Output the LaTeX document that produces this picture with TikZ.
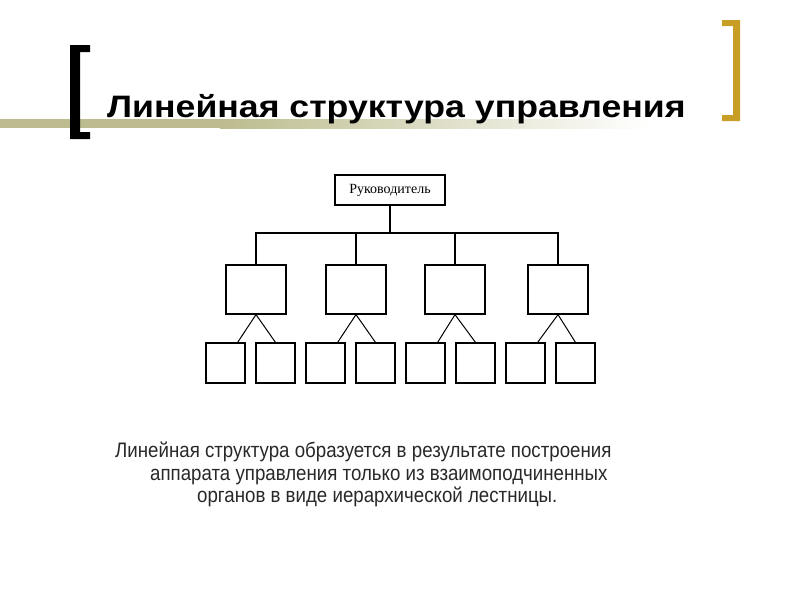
\documentclass[tikz,border=0pt]{standalone}
\usepackage{fontspec}
\setmainfont{Liberation Sans}
\newfontfamily\timesfont{Liberation Serif}
\usepackage{xcolor}
\usepackage{graphicx}
\usetikzlibrary{positioning}

\definecolor{barolive}{RGB}{188,188,142}
\definecolor{bracketgold}{RGB}{201,158,36}
\definecolor{textgrey}{RGB}{40,40,40}

\begin{document}
\begin{tikzpicture}[x=1pt,y=-1pt,
	chief/.style={draw,line width=1.2pt,rectangle,minimum width=110pt,minimum height=30pt,inner sep=0pt,font=\timesfont\fontsize{14}{16}\selectfont},
	unit/.style={draw,line width=1.2pt,rectangle,minimum width=60pt,minimum height=49pt,inner sep=0pt},
	leaf/.style={draw,line width=1.2pt,rectangle,minimum width=39pt,minimum height=40pt,inner sep=0pt},
	bodyline/.style={anchor=base west,text=textgrey,inner sep=0pt,font=\fontsize{21}{24}\selectfont}]
	\useasboundingbox (0,0) rectangle (800,600);
	% title bar and brackets
	\fill[barolive] (0,119) rectangle (220,128);
	\shade[left color=barolive,right color=white] (220,119) rectangle (650,128);
	\fill (70,45) -- (90,45) -- (90,52) -- (80,52) -- (80,132) -- (90,132) -- (90,139) -- (70,139) -- cycle;
	\fill[bracketgold] (722,20) -- (740,20) -- (740,121) -- (722,121) -- (722,115) -- (733,115) -- (733,26) -- (722,26) -- cycle;
	\node[anchor=base west,inner sep=0pt,font=\bfseries\fontsize{31}{36}\selectfont] (title) at (107,117) {\scalebox{1.15}[1]{Линейная структура управления}};
	% tree
	\node[chief] (boss) at (390,190) {Руководитель};
	\coordinate (bus) at (390,233);
	\foreach \i/\x in {1/256,2/356,3/455,4/558} {
		\node[unit] (m\i) at (\x,289.5) {};
		\node[leaf] (la\i) at (125.5+100*\i,363) {};
		\node[leaf] (lb\i) at (175.5+100*\i,363) {};
		\draw[line width=1pt] ([xshift=-8pt]la\i.north east) -- (m\i.south) -- (lb\i.north);
	}
	\draw[line width=1.2pt] (boss.south) -- (bus);
	\draw[line width=1.2pt] (m1.north) |- (bus) -| (m4.north);
	\draw[line width=1.2pt] (m2.north) -- (m2.north |- bus);
	\draw[line width=1.2pt] (m3.north) -- (m3.north |- bus);
	% text
	\node[bodyline] (body1) at (115,457) {\scalebox{0.89}[1]{Линейная структура образуется в результате построения}};
	\node[bodyline] (body2) at (150,480) {\scalebox{0.89}[1]{аппарата управления только из взаимоподчиненных}};
	\node[bodyline] (body3) at (197,502) {\scalebox{0.89}[1]{органов в виде иерархической лестницы.}};
\end{tikzpicture}
\end{document}
